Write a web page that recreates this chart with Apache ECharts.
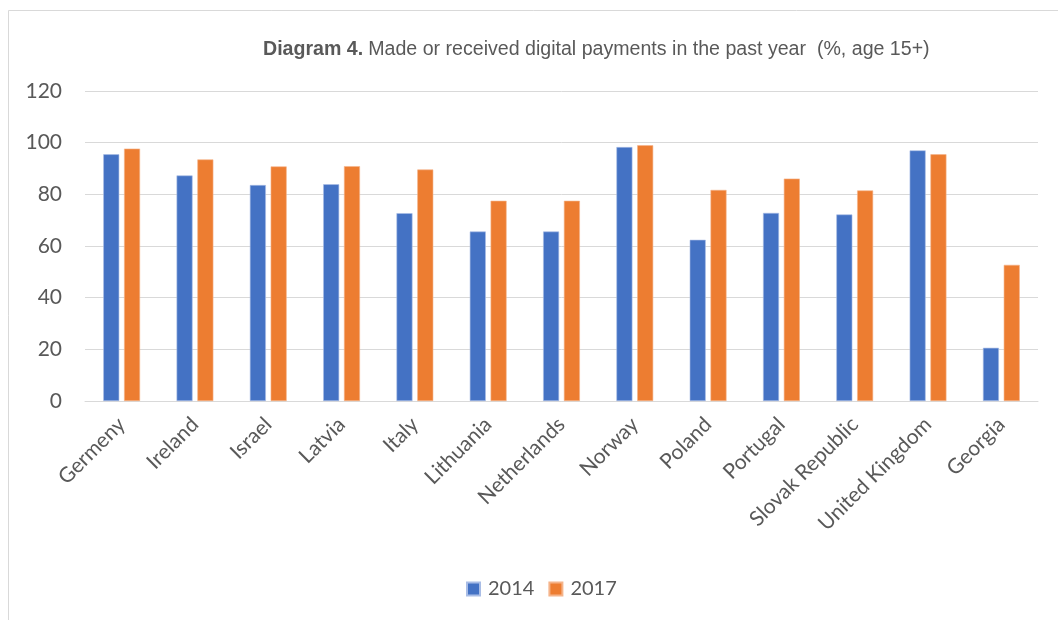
<!DOCTYPE html>
<html>
<head>
<meta charset="utf-8">
<script src="https://cdn.jsdelivr.net/npm/echarts@6/dist/echarts.min.js"></script>
<style>
  html, body { margin: 0; padding: 0; background: #ffffff; }
  #chart { width: 1058px; height: 620px; }
</style>
</head>
<body>
<div id="chart"></div>
<script>
// Share of adults (15+) who made or received digital payments
const countries = ['Germeny', 'Ireland', 'Israel', 'Latvia', 'Italy', 'Lithuania', 'Netherlands',
  'Norway', 'Poland', 'Portugal', 'Slovak Republic', 'United Kingdom', 'Georgia'];
const values2014 = [95.5, 87.3, 83.6, 83.9, 72.7, 65.6, 65.6, 98.3, 62.4, 72.8, 72.2, 97.0, 20.6];
const values2017 = [97.7, 93.5, 90.8, 90.9, 89.6, 77.5, 77.5, 99.0, 81.7, 86.1, 81.5, 95.5, 52.7];
const yTicks = [0, 20, 40, 60, 80, 100, 120];

const grey = '#595959';
const chart = echarts.init(document.getElementById('chart'), null, { renderer: 'canvas' });

chart.setOption({
  animation: false,
  backgroundColor: '#ffffff',
  graphic: [{
    type: 'rect',
    silent: true,
    shape: { x: 8.5, y: 10.5, width: 1200, height: 800 },
    style: { fill: 'none', stroke: '#d9d9d9', lineWidth: 1 }
  }],
  title: {
    left: 258,
    top: 35,
    text: '{b|Diagram 4.} {n|Made or received digital payments in the past year  (%, age 15+)}',
    textStyle: {
      rich: {
        b: { fontFamily: 'Liberation Sans', fontSize: 19.6, fontWeight: 'bold', color: grey },
        n: { fontFamily: 'Liberation Sans', fontSize: 19.6, fontWeight: 'normal', color: grey }
      }
    }
  },
  legend: {
    bottom: 16,
    left: 461,
    itemWidth: 13,
    itemHeight: 13,
    itemGap: 14,
    icon: 'rect',
    textStyle: { fontFamily: 'Lato', fontSize: 20, color: grey, padding: [0, 0, 0, 3] },
    data: ['2014', '2017']
  },
  grid: {
    left: 85,
    right: 20,
    top: 91,
    bottom: 219,
    outerBoundsMode: 'none'
  },
  xAxis: {
    type: 'category',
    data: countries,
    axisTick: { show: false },
    axisLine: { lineStyle: { color: '#d9d9d9', width: 1 } },
    axisLabel: {
      interval: 0,
      rotate: 45,
      margin: 20,
      fontFamily: 'Lato',
      fontSize: 21,
      color: grey
    }
  },
  yAxis: {
    type: 'value',
    min: yTicks[0],
    max: yTicks[yTicks.length - 1],
    interval: 20,
    axisLine: { show: false },
    axisTick: { show: false },
    splitLine: { lineStyle: { color: '#d9d9d9', width: 1 } },
    axisLabel: { fontFamily: 'Lato', fontSize: 21, color: grey, margin: 23 }
  },
  series: [
    {
      name: '2014',
      type: 'bar',
      data: values2014,
      barWidth: 16,
      barGap: '30%',
      itemStyle: { color: '#4472C4', borderColor: '#a9bde6', borderWidth: 0.6 }
    },
    {
      name: '2017',
      type: 'bar',
      data: values2017,
      barWidth: 16,
      itemStyle: { color: '#ED7D31', borderColor: '#f5b48a', borderWidth: 0.6 }
    }
  ]
});
</script>
</body>
</html>
